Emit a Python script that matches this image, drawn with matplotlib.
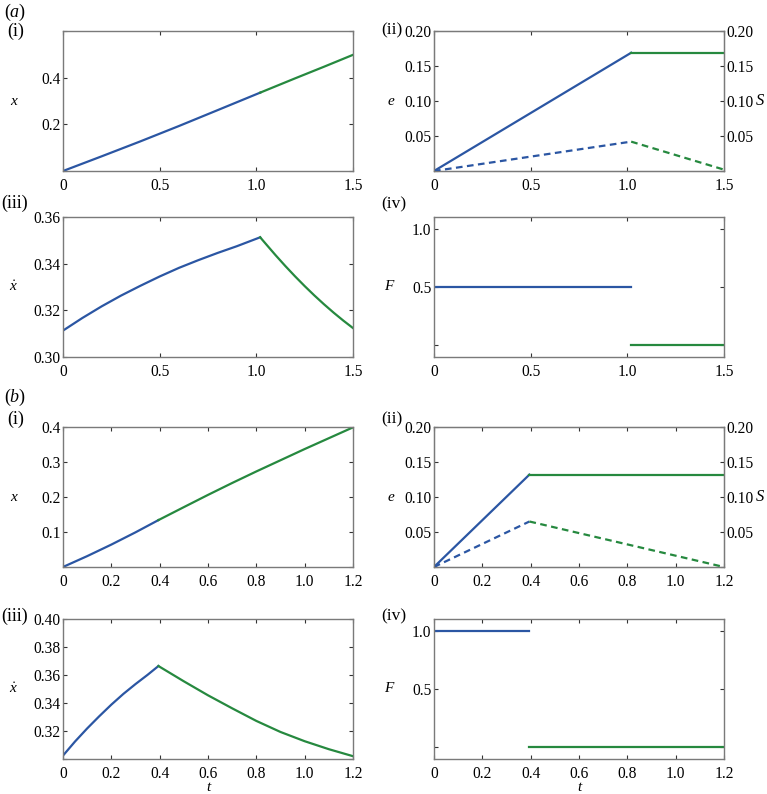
import matplotlib.pyplot as plt
import numpy as np

# ---- case (a) ----
ta_x = [0, 0.2, 0.4, 0.6, 0.8, 1.02]
xa_on = [0, 0.063, 0.127, 0.193, 0.261, 0.336]
ta_x2 = [1.02, 1.2, 1.35, 1.5]
xa_off = [0.336, 0.397, 0.447, 0.498]

ta_v = [0, 0.1, 0.2, 0.3, 0.4, 0.5, 0.6, 0.7, 0.8, 0.9, 1.02]
va_on = [0.3113, 0.3167, 0.3217, 0.3263, 0.3305, 0.3345, 0.3382, 0.3415, 0.3446, 0.3475, 0.3513]
ta_v2 = [1.02, 1.05, 1.1, 1.15, 1.2, 1.25, 1.3, 1.35, 1.4, 1.45, 1.5]
va_off = [0.3513, 0.3484, 0.3436, 0.3390, 0.3346, 0.3304, 0.3264, 0.3226, 0.3190, 0.3156, 0.3124]

ta_sw = 1.02
ea_peak = 0.169
Sa_peak = 0.042
Sa_end = 0.002
Fa_on = 0.5

# ---- case (b) ----
tb_x = [0, 0.1, 0.2, 0.3, 0.395]
xb_on = [0, 0.031, 0.064, 0.099, 0.134]
tb_x2 = [0.395, 0.5, 0.6, 0.7, 0.8, 0.9, 1.0, 1.1, 1.2]
xb_off = [0.134, 0.171, 0.206, 0.240, 0.273, 0.305, 0.337, 0.368, 0.399]

tb_v = [0, 0.05, 0.1, 0.15, 0.2, 0.25, 0.3, 0.35, 0.395]
vb_on = [0.3024, 0.3125, 0.3218, 0.3305, 0.3388, 0.3465, 0.3535, 0.3601, 0.3664]
tb_v2 = [0.395, 0.5, 0.6, 0.7, 0.8, 0.9, 1.0, 1.1, 1.2]
vb_off = [0.3664, 0.3555, 0.3455, 0.3362, 0.3272, 0.3193, 0.3127, 0.3070, 0.3020]

tb_sw = 0.395
eb_peak = 0.132
Sb_peak = 0.065
Sb_end = 0.0
Fb_on = 1.0

BLUE = '#2b56a3'
GREEN = '#26893f'
GREY = '#7a7a7a'

plt.rcParams['font.family'] = ['Liberation Serif', 'DejaVu Serif']
plt.rcParams['mathtext.fontset'] = 'custom'
plt.rcParams['mathtext.it'] = 'Liberation Serif:italic'
plt.rcParams['mathtext.rm'] = 'Liberation Serif'
plt.rcParams['font.size'] = 11

fig = plt.figure(figsize=(7.67, 7.94), dpi=100)

W = 0.3781
H = 0.1763
lefts = [0.0821, 0.5658]
bottoms = [0.7846, 0.5504, 0.2859, 0.0441]
TICKSIZE = 11.2


def style(ax, xmax, xticks, xlabels):
    ax.set_xlim(0, xmax)
    ax.set_xticks(xticks)
    ax.set_xticklabels(xlabels)
    ax.tick_params(direction='in', top=True, right=True, length=3, width=0.8,
                   color='#333333', labelsize=TICKSIZE)
    ax.tick_params(axis='x', pad=5)
    ax.tick_params(axis='y', pad=1.8)
    for s in ax.spines.values():
        s.set_color(GREY)
        s.set_linewidth(1.0)


def ylab(ax, txt, x=-0.17):
    ax.text(x, 0.5, txt, transform=ax.transAxes, ha='center', va='center',
            fontsize=11, style='italic')


xa_ticks = [0, 0.5, 1.0, 1.5]
xa_labels = ['0', '0.5', '1.0', '1.5']
xb_ticks = [0, 0.2, 0.4, 0.6, 0.8, 1.0, 1.2]
xb_labels = ['0', '0.2', '0.4', '0.6', '0.8', '1.0', '1.2']

lw = 1.6

cases = [
    (0, 1.5, xa_ticks, xa_labels, ta_x, xa_on, ta_x2, xa_off, ta_v, va_on, ta_v2, va_off,
     ta_sw, ea_peak, Sa_peak, Sa_end, Fa_on),
    (2, 1.2, xb_ticks, xb_labels, tb_x, xb_on, tb_x2, xb_off, tb_v, vb_on, tb_v2, vb_off,
     tb_sw, eb_peak, Sb_peak, Sb_end, Fb_on),
]

for (row, xmax, xt, xl, t1, x1, t2, x2, tv1, v1, tv2, v2, tsw, epk, spk, send, fon) in cases:
    # (i) position
    ax = fig.add_axes([lefts[0], bottoms[row], W, H])
    ax.plot(t1, x1, color=BLUE, lw=lw)
    ax.plot(t2, x2, color=GREEN, lw=lw)
    style(ax, xmax, xt, xl)
    if row == 0:
        ax.set_ylim(0, 0.6)
        ax.set_yticks([0, 0.2, 0.4, 0.6])
        ax.set_yticklabels(['', '0.2', '0.4', ''])
    else:
        ax.set_ylim(0, 0.4)
        ax.set_yticks([0, 0.1, 0.2, 0.3, 0.4])
        ax.set_yticklabels(['', '0.1', '0.2', '0.3', '0.4'])
    ylab(ax, 'x', -0.172)

    # (ii) e and S
    ax = fig.add_axes([lefts[1], bottoms[row], W, H])
    ax.plot([0, tsw], [0, epk], color=BLUE, lw=lw)
    ax.plot([tsw, xmax], [epk, epk], color=GREEN, lw=lw)
    style(ax, xmax, xt, xl)
    ax.set_ylim(0, 0.2)
    ax.set_yticks([0, 0.05, 0.10, 0.15, 0.20])
    ax.set_yticklabels(['', '0.05', '0.10', '0.15', '0.20'])
    ax.tick_params(right=False)
    ylab(ax, 'e', -0.15)
    ax2 = ax.twinx()
    ax2.plot([0, tsw], [0, spk], color=BLUE, lw=lw, ls=(0, (3, 2)))
    ax2.plot([tsw, xmax], [spk, send], color=GREEN, lw=lw, ls=(0, (3, 2)))
    ax2.set_ylim(0, 0.2)
    ax2.set_yticks([0, 0.05, 0.10, 0.15, 0.20])
    ax2.set_yticklabels(['', '0.05', '0.10', '0.15', '0.20'])
    ax2.tick_params(direction='in', length=3, width=0.8, color='#333333',
                    labelsize=TICKSIZE, pad=1.8)
    for s in ax2.spines.values():
        s.set_color(GREY)
    ax2.text(1.125, 0.5, 'S', transform=ax2.transAxes, ha='center', va='center',
             fontsize=12, style='italic')

    # (iii) velocity
    ax = fig.add_axes([lefts[0], bottoms[row + 1], W, H])
    ax.plot(tv1, v1, color=BLUE, lw=lw)
    ax.plot(tv2, v2, color=GREEN, lw=lw)
    style(ax, xmax, xt, xl)
    if row == 0:
        ax.set_ylim(0.30, 0.36)
        ax.set_yticks([0.30, 0.32, 0.34, 0.36])
        ax.set_yticklabels(['0.30', '0.32', '0.34', '0.36'])
    else:
        ax.set_ylim(0.30, 0.40)
        ax.set_yticks([0.30, 0.32, 0.34, 0.36, 0.38, 0.40])
        ax.set_yticklabels(['', '0.32', '0.34', '0.36', '0.38', '0.40'])
    ylab(ax, r'$\dot{x}$', -0.172)
    if row == 2:
        ax.set_xlabel('t', style='italic', fontsize=11, labelpad=-1)

    # (iv) force
    ax = fig.add_axes([lefts[1], bottoms[row + 1], W, H])
    ax.plot([0, tsw], [fon, fon], color=BLUE, lw=lw)
    ax.plot([tsw, xmax], [0, 0], color=GREEN, lw=lw)
    style(ax, xmax, xt, xl)
    ax.set_ylim(-0.1, 1.1)
    ax.set_yticks([0, 0.5, 1.0])
    ax.set_yticklabels(['', '0.5', '1.0'])
    ylab(ax, 'F', -0.155)
    if row == 2:
        ax.set_xlabel('t', style='italic', fontsize=11, labelpad=-1)

# panel labels
fig.text(0.005, 0.984, r'($\it{a}$)', fontsize=13, va='center')
fig.text(0.009, 0.960, '(i)', fontsize=13, va='center')
fig.text(0.497, 0.962, '(ii)', fontsize=12.5, va='center')
fig.text(0.002, 0.744, '(iii)', fontsize=13, va='center')
fig.text(0.497, 0.742, '(iv)', fontsize=12.5, va='center')
fig.text(0.005, 0.499, r'($\it{b}$)', fontsize=13, va='center')
fig.text(0.009, 0.472, '(i)', fontsize=13, va='center')
fig.text(0.497, 0.472, '(ii)', fontsize=12.5, va='center')
fig.text(0.002, 0.224, '(iii)', fontsize=13, va='center')
fig.text(0.497, 0.224, '(iv)', fontsize=12.5, va='center')

plt.savefig('out.png', dpi=100)
